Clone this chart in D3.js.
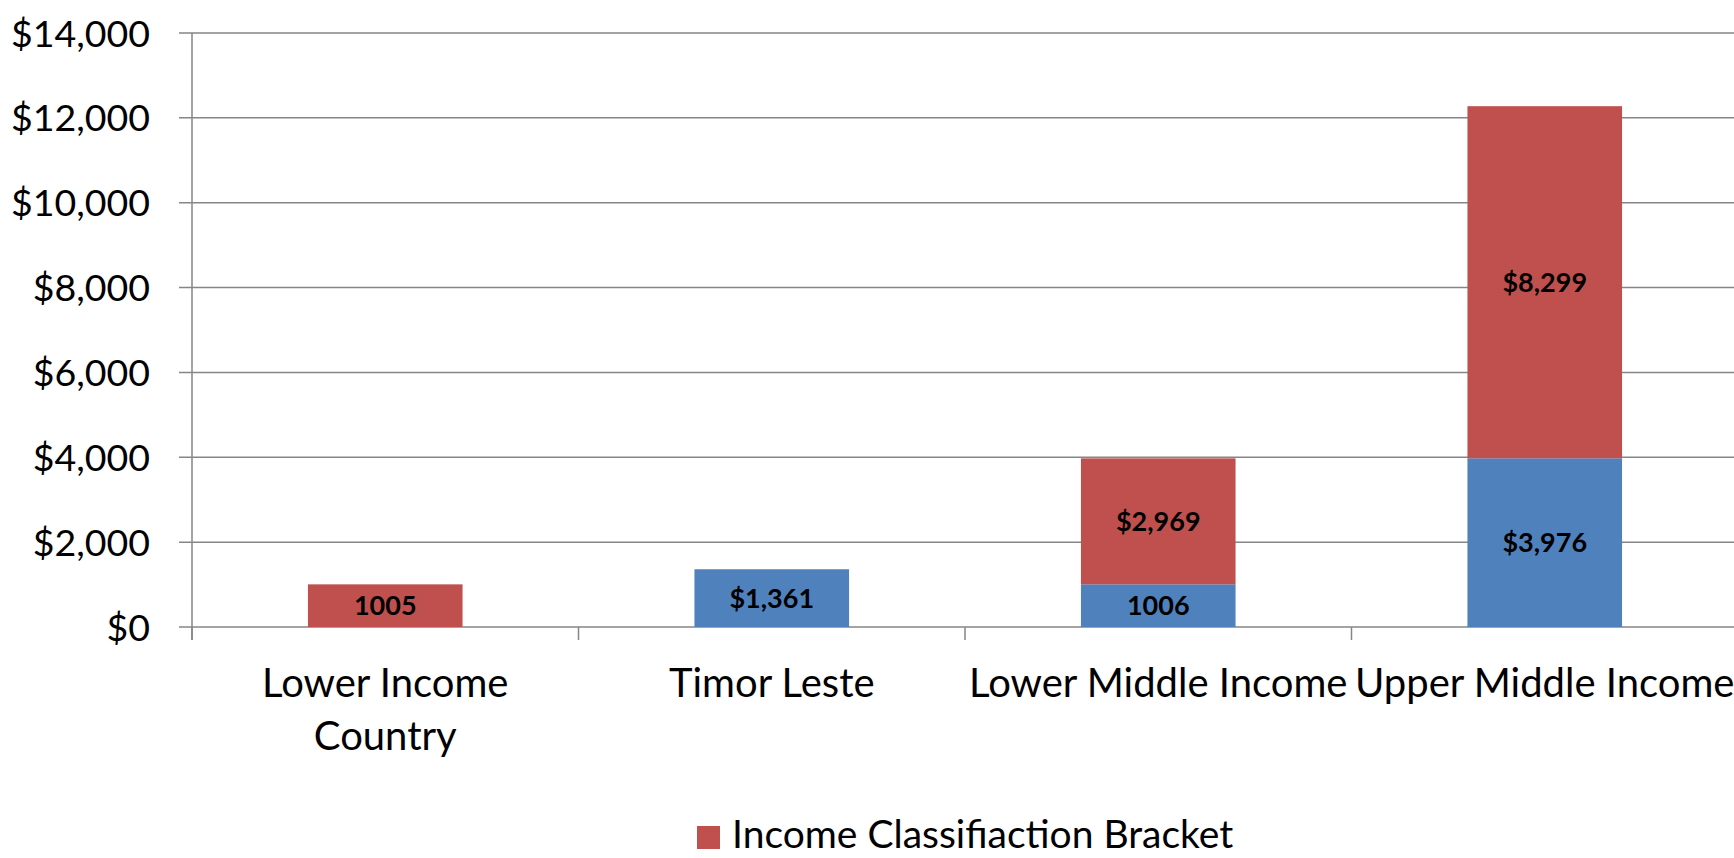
<!DOCTYPE html>
<html><head><meta charset="utf-8">
<script src="https://cdn.jsdelivr.net/npm/d3@7"></script>
<style>html,body{margin:0;padding:0;background:#fff;overflow:hidden}</style>
</head><body>
<svg id="chart" width="1734" height="858"></svg>
<script>
const categories = ["Lower Income Country", "Timor Leste", "Lower Middle Income", "Upper Middle Income"];
const categoryLines = [["Lower Income", "Country"], ["Timor Leste"], ["Lower Middle Income"], ["Upper Middle Income"]];
const blueValues = [0, 1361, 1006, 3976];
const redValues = [1005, 0, 2969, 8299];
const blueLabels = ["", "$1,361", "1006", "$3,976"];
const redLabels = ["1005", "", "$2,969", "$8,299"];
const yTicks = [0, 2000, 4000, 6000, 8000, 10000, 12000, 14000];
const legendLabel = "Income Classifiaction Bracket";

const svg = d3.select("#chart");
const W = 1734, H = 858;
const m = {left: 192, top: 33, bottom: 231};
const plotW = 386.5 * 4;
const x = d3.scaleBand().domain(categories).range([m.left, m.left + plotW]).paddingInner(0.6).paddingOuter(0.3);
const y = d3.scaleLinear().domain([0, 14000]).range([627, m.top]);
const font = "Lato, 'Open Sans', sans-serif";
const gridColor = "#868686";

// gridlines
svg.append("g").selectAll("line").data(yTicks).join("line")
  .attr("x1", m.left - 13).attr("x2", m.left + plotW)
  .attr("y1", d => y(d)).attr("y2", d => y(d))
  .attr("stroke", gridColor).attr("stroke-width", 1.5);

// y axis line
svg.append("line").attr("x1", m.left).attr("x2", m.left).attr("y1", y(14000)).attr("y2", y(0) + 13)
  .attr("stroke", gridColor).attr("stroke-width", 1.5);

// category ticks at band boundaries
const step = x.step();
const bounds = d3.range(categories.length + 1).map(i => m.left + i * step);
svg.append("g").selectAll("line").data(bounds).join("line")
  .attr("x1", d => d).attr("x2", d => d).attr("y1", y(0)).attr("y2", y(0) + 13)
  .attr("stroke", gridColor).attr("stroke-width", 1.5);

// y tick labels
svg.append("g").selectAll("text").data(yTicks).join("text")
  .attr("x", 150).attr("y", d => y(d)).attr("dy", "0.36em")
  .attr("text-anchor", "end").attr("font-family", font).attr("font-size", 37.5).attr("fill", "#000")
  .text(d => "$" + d3.format(",")(d));

// bars
const series = [
  {values: blueValues, labels: blueLabels, color: "#4F81BD", base: categories.map(() => 0)},
  {values: redValues, labels: redLabels, color: "#C0504D", base: blueValues}
];
series.forEach(s => {
  const g = svg.append("g");
  g.selectAll("rect").data(categories).join("rect")
    .attr("x", d => x(d)).attr("width", x.bandwidth())
    .attr("y", (d, i) => y(s.base[i] + s.values[i]))
    .attr("height", (d, i) => y(s.base[i]) - y(s.base[i] + s.values[i]))
    .attr("fill", s.color);
  g.selectAll("text").data(categories).join("text")
    .attr("x", d => x(d) + x.bandwidth() / 2)
    .attr("y", (d, i) => y(s.base[i] + s.values[i] / 2)).attr("dy", "0.36em")
    .attr("text-anchor", "middle").attr("font-family", font).attr("font-weight", "bold")
    .attr("font-size", 27).attr("fill", "#000")
    .text((d, i) => s.labels[i]);
});

// category labels
const cg = svg.append("g");
categories.forEach((c, i) => {
  const t = cg.append("text").attr("x", x(c) + x.bandwidth() / 2).attr("y", 697)
    .attr("text-anchor", "middle").attr("font-family", font).attr("font-size", 40).attr("fill", "#000");
  categoryLines[i].forEach((ln, j) => {
    t.append("tspan").attr("x", x(c) + x.bandwidth() / 2).attr("dy", j === 0 ? 0 : 53).text(ln);
  });
});

// legend
svg.append("rect").attr("x", 697).attr("y", 826).attr("width", 23).attr("height", 23).attr("fill", "#C0504D");
svg.append("text").attr("x", 732).attr("y", 848).attr("font-family", font).attr("font-size", 39).attr("fill", "#000").text(legendLabel);
</script>
</body></html>
